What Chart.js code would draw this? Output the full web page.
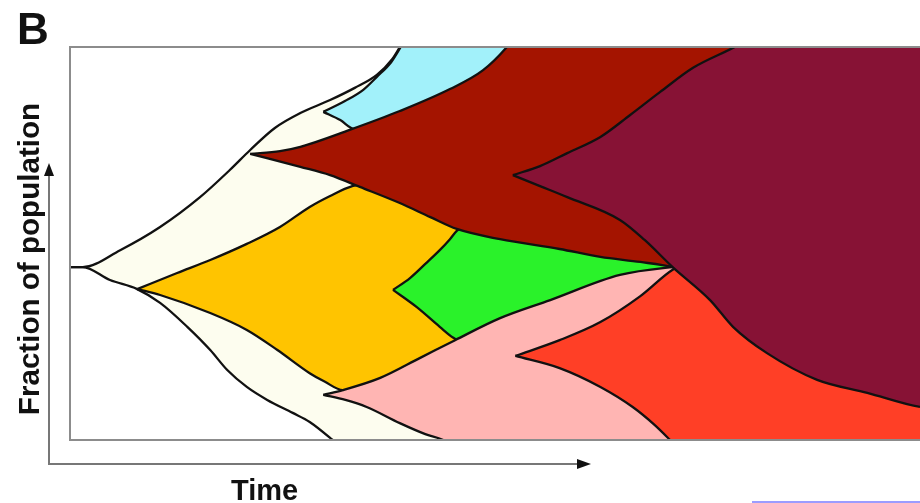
<!DOCTYPE html>
<html>
<head>
<meta charset="utf-8">
<script src="https://cdn.jsdelivr.net/npm/chart.js@4.4.1/dist/chart.umd.min.js"></script>
<style>
  html, body { margin: 0; padding: 0; background: #fff; }
  #wrap { position: relative; width: 920px; height: 503px; overflow: hidden;
          font-family: "Liberation Sans", Arial, sans-serif; font-weight: bold; color: #111; }
  #fish { position: absolute; left: 0; top: 0; }
  .lbl { position: absolute; line-height: 1; white-space: nowrap; }
</style>
</head>
<body>
<div id="wrap">
  <canvas id="fish" width="920" height="503"></canvas>
  <div class="lbl" style="left:17px;top:7px;font-size:44px;">B</div>
  <div class="lbl" style="left:28.5px;top:259px;font-size:29.6px;transform:translate(-50%,-50%) rotate(-90deg);">Fraction of population</div>
  <div class="lbl" style="left:231px;top:476px;font-size:29px;">Time</div>
  <div style="position:absolute;left:752px;top:501px;width:168px;height:2px;background:#9c9cff;"></div>
</div>
<script>
// time (0-100) vs fraction of population (0-100), upper and lower edge of each clone
const creamUpper = [[0,44],[1.5,44],[5.9,48.3],[10.6,54.2],[15.3,61.8],[18.8,68.7],[21.2,73.8],[24.1,79.4],[27.1,83.2],[30.6,86.5],[33.5,89.6],[36.1,92.9],[37.9,96.9],[38.8,100],[40.2,105.6],[43.5,112],[105,112]];
const creamLower = [[0,44],[1.5,44],[4.7,40.7],[7.9,38.4],[10.6,34.9],[13.8,28.8],[16.5,22.9],[18.5,17.8],[20.8,13.5],[23.2,10.2],[26.2,6.9],[28.2,4.6],[30.9,0],[32.9,-3.8],[36.5,-10.2],[105,-10.2]];

const cyanUpper = [[29.8,83.5],[32.4,86.3],[34.5,89.1],[36.1,92.4],[37.8,96.2],[38.9,100],[40,104.3],[42.4,112],[105,112]];
const cyanLower = [[29.8,83.5],[31.8,81.4],[33.5,79.1],[36.5,79.6],[41.2,82.4],[47.1,87.5],[52.9,94.1],[57.6,101.8],[62.4,112],[105,112]];

const yellowUpper = [[7.9,38.4],[12.6,42.5],[16.5,45.8],[20.8,49.9],[24.7,54.2],[28.2,59.3],[30.6,62.1],[33.2,64.6],[36.5,65.6],[41.2,64.1],[45.5,59.8],[50.6,54.7],[57.6,50.9],[64.7,48.3],[70.9,46.3],[105,46.3]];
const yellowLower = [[7.9,38.4],[10.6,36.9],[16.5,32.3],[20.8,28],[24.4,22.9],[28.2,17],[30,14.8],[32.1,12.7],[36.5,13.7],[41.2,17.8],[45.3,22.4],[50.6,28],[57.6,35.1],[64.7,40.5],[70.9,43],[105,43]];

const greenUpper = [[38,38.2],[40,41.2],[41.8,44.8],[43.5,48.3],[44.7,51.1],[45.5,53.2],[47.1,55.5],[50.6,54.7],[57.6,52.2],[64.7,49.6],[70.9,47.1],[105,47.1]];
const greenLower = [[38,38.2],[40.8,33.8],[43.5,28.8],[45.1,26],[47.1,23.9],[50.6,27.2],[57.6,33.1],[64.7,39.2],[70.9,42],[105,42]];

const pinkUpper = [[29.8,11.5],[32.1,12.7],[36.5,15.8],[41.2,20.9],[45.3,25.4],[50.6,31],[56.5,35.6],[64.7,42],[70.9,44],[74.1,44.5],[105,44.5]];
const pinkLower = [[29.8,11.5],[32.4,10.2],[34.9,8.4],[38.8,4.3],[41.8,1.5],[43.9,0],[45.9,-3.1],[50.6,-7.6],[105,-10.2]];

const redUpper = [[52.4,21.4],[57.6,25.4],[62.4,30],[67.1,36.6],[70.9,43.3],[74.1,46.3],[105,46.3]];
const redLower = [[52.4,21.4],[57.6,18.3],[62.4,13.5],[66.2,8.4],[68.8,3.8],[70.6,0],[72.9,-5.1],[76.5,-10.2],[105,-10.2]];

const darkRedUpper = [[21.2,72.8],[24.7,73.5],[27.1,74.6],[32.9,78.9],[38.8,83.7],[44.7,89.3],[48.6,94.1],[51.4,100],[52.9,104.3],[56.5,112],[105,112]];
const darkRedLower = [[21.2,72.8],[27.1,69.5],[30.6,67.4],[34.1,64.4],[38.8,60.3],[42.4,56.7],[45.5,53.7],[50.6,51.1],[57.6,48.6],[62.4,46.6],[67.1,45.3],[70.9,44],[74.1,42],[105,39.4]];

const maroonUpper = [[52.1,67.4],[55.3,69.7],[58.5,73],[62.4,77.1],[65.9,82.7],[69.4,88.5],[73.3,94.7],[78.2,100],[81.2,103.8],[85.9,112],[105,112]];
const maroonLower = [[52.1,67.4],[55.3,64.6],[58.5,61.8],[64.7,56],[67.6,50.9],[70.9,44],[75.3,35.6],[78,28.8],[82,22.1],[87.9,15.3],[93.8,12],[100,8.4],[104.7,7.6]];

// bottom layer first; later clones are painted over earlier ones
const clones = [
  { name: 'founder', color: '#fdfdef', upper: creamUpper, lower: creamLower },
  { name: 'cyan', color: '#a2f1fa', upper: cyanUpper, lower: cyanLower },
  { name: 'yellow', color: '#ffc400', upper: yellowUpper, lower: yellowLower },
  { name: 'green', color: '#2af22a', upper: greenUpper, lower: greenLower },
  { name: 'pink', color: '#ffb5b3', upper: pinkUpper, lower: pinkLower },
  { name: 'red', color: '#ff3f26', upper: redUpper, lower: redLower },
  { name: 'darkred', color: '#a41400', upper: darkRedUpper, lower: darkRedLower },
  { name: 'maroon', color: '#871235', upper: maroonUpper, lower: maroonLower }
];

function pts(a) {
  return a.map(p => ({ x: p[0], y: p[1] }));
}

const datasets = [];
const total = clones.length * 2;
clones.forEach(c => {
  const up = datasets.length;
  const common = {
    borderColor: '#111',
    borderWidth: 2.3,
    pointRadius: 0,
    cubicInterpolationMode: 'monotone',
    capBezierPoints: false
  };
  datasets.push(Object.assign({}, common, {
    label: c.name + ' upper',
    data: pts(c.upper),
    backgroundColor: c.color,
    fill: up + 1,
    order: total - up
  }));
  datasets.push(Object.assign({}, common, {
    label: c.name + ' lower',
    data: pts(c.lower),
    backgroundColor: c.color,
    fill: false,
    order: total - up - 1
  }));
});

// plot frame and the two axis arrows outside it
const frameArrows = {
  id: 'frameArrows',
  afterDatasetsDraw(chart) {
    const { ctx, chartArea: a } = chart;
    ctx.save();
    ctx.strokeStyle = '#8c8c8c';
    ctx.lineWidth = 2;
    ctx.beginPath();
    ctx.moveTo(chart.width + 2, a.top);
    ctx.lineTo(a.left, a.top);
    ctx.lineTo(a.left, a.bottom);
    ctx.lineTo(chart.width + 2, a.bottom);
    ctx.stroke();

    const ax = a.left - 21, ay = a.bottom + 24;
    const yTip = a.top + 116, xTip = 591;
    ctx.strokeStyle = '#777';
    ctx.beginPath();
    ctx.moveTo(ax, yTip + 10);
    ctx.lineTo(ax, ay);
    ctx.lineTo(xTip - 10, ay);
    ctx.stroke();

    ctx.fillStyle = '#111';
    ctx.beginPath();
    ctx.moveTo(ax, yTip);
    ctx.lineTo(ax - 5, yTip + 13);
    ctx.lineTo(ax + 5, yTip + 13);
    ctx.closePath();
    ctx.fill();
    ctx.beginPath();
    ctx.moveTo(xTip, ay);
    ctx.lineTo(xTip - 14, ay - 5);
    ctx.lineTo(xTip - 14, ay + 5);
    ctx.closePath();
    ctx.fill();
    ctx.restore();
  }
};

new Chart(document.getElementById('fish'), {
  type: 'line',
  data: { datasets: datasets },
  options: {
    responsive: false,
    animation: false,
    devicePixelRatio: 1,
    events: [],
    layout: { padding: { left: 70, top: 47, right: 0, bottom: 63 } },
    scales: {
      x: { type: 'linear', min: 0, max: 100, display: false },
      y: { type: 'linear', min: 0, max: 100, display: false }
    },
    plugins: {
      legend: { display: false },
      tooltip: { enabled: false }
    }
  },
  plugins: [frameArrows]
});
</script>
</body>
</html>
